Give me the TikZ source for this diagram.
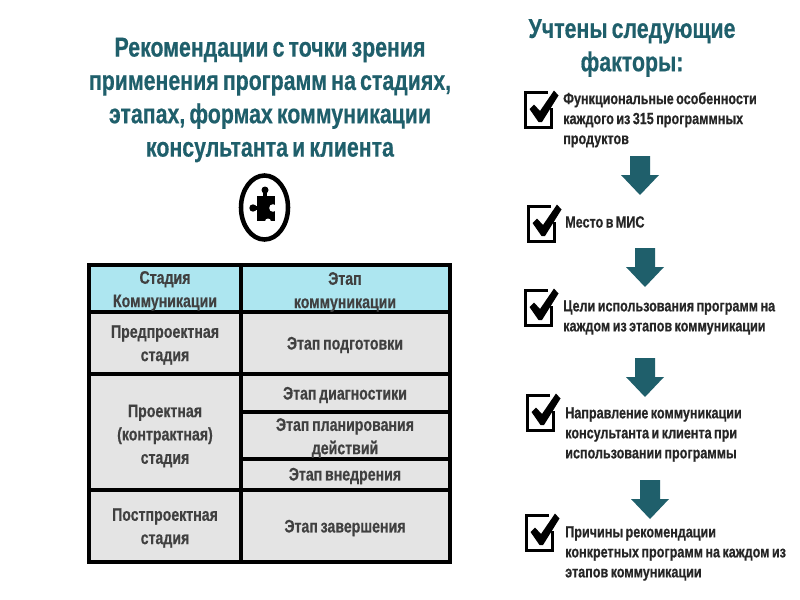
\documentclass[tikz,border=0pt]{standalone}
\usepackage{fontspec}
\setmainfont[FakeStretch=0.78,WordSpace=0.7,BoldFeatures={FakeBold=0.5}]{Liberation Sans}
\definecolor{tealdark}{HTML}{1F5F6B}
\definecolor{hdr}{HTML}{ADE6F0}
\definecolor{gry}{HTML}{E4E4E4}
\tikzset{
 ttl/.style={font=\fontsize{20.5}{25}\selectfont\bfseries,text=tealdark,align=center},
 fac/.style={font=\fontsize{12.1}{15}\selectfont\bfseries,text=black!85,align=left,anchor=north west,inner sep=0pt},
 cell/.style={font=\fontsize{13.6}{17.5}\selectfont\bfseries,text=black!75,align=center,inner sep=0pt},
 arr/.style={fill=tealdark,draw=none},
 grid/.style={line width=2.4pt,draw=black}
}
\newcommand{\chk}[2]{\begin{scope}[shift={(#1,#2)}]
 \draw[line width=2.6pt,draw=black] (24,1.75) -- (1.75,1.75) -- (1.75,36.25) -- (27.25,36.25) -- (27.25,17);
 \fill[black] (5.5,18) -- (10,13.5) -- (16,20) -- (30,-0.5) -- (34.5,4.5) -- (18,31) -- (14.5,31) -- cycle;
\end{scope}}
\newcommand{\arw}[2]{\fill[arr,shift={(#1,#2)}] (-10,0) -- (10,0) -- (10,19) -- (19,19) -- (0,39) -- (-19,19) -- (-10,19) -- cycle;}
\begin{document}
\begin{tikzpicture}[x=0.75pt,y=-0.75pt]
\useasboundingbox (0,0) rectangle (800,600);
\fill[white] (0,0) rectangle (800,600);
\node[ttl] (title) at (270,100) {Рекомендации с точки зрения\\применения программ на стадиях,\\этапах, формах коммуникации\\консультанта и клиента};
\node[ttl] (factors) at (632,48) {Учтены следующие\\факторы:};
% emblem
\draw[line width=3.4pt] (264.5,207.5) ellipse [x radius=23.5,y radius=32];
\fill (257,196) rectangle (275,221);
\fill (263,193) rectangle (267,197);
\fill (265,190) circle (3.5);
\fill (254,206) rectangle (258,210);
\fill (253,208) circle (3.7);
\fill[white] (273,208) circle (3.8);
\fill[white] (268,221.5) circle (3);
\fill (271,217) rectangle (275,221);
% table
\fill[hdr] (89,265) rectangle (450,312);
\fill[gry] (89,312) rectangle (450,562);
\draw[grid] (89,265) rectangle (450,562);
\draw[grid] (241,265) -- (241,562);
\draw[grid] (89,312) -- (450,312);
\draw[grid] (89,374) -- (450,374);
\draw[grid] (241,412) -- (450,412);
\draw[grid] (241,459) -- (450,459);
\draw[grid] (89,490) -- (450,490);
\node[cell] (c1) at (165,291) {Стадия\\Коммуникации};
\node[cell] (c2) at (345,292) {Этап\\коммуникации};
\node[cell] (c3) at (165,345) {Предпроектная\\стадия};
\node[cell] (c4) at (345,345) {Этап подготовки};
\node[cell] (c5) at (165,436) {Проектная\\(контрактная)\\стадия};
\node[cell] (c6) at (345,395) {Этап диагностики};
\node[cell] (c7) at (345,438) {Этап планирования\\действий};
\node[cell] (c8) at (345,476) {Этап внедрения};
\node[cell] (c9) at (165,528) {Постпроектная\\стадия};
\node[cell] (c10) at (345,528) {Этап завершения};
% factors
\chk{524}{91}\chk{527}{205}\chk{524}{289}\chk{526}{394}\chk{525}{514}
\arw{640}{156}\arw{645}{248}\arw{645}{358}\arw{650}{480}
\node[fac] (f1) at (563,92) {Функциональные особенности\\каждого из 315 программных\\продуктов};
\node[fac] (f2) at (565,216) {Место в МИС};
\node[fac] (f3) at (563,300) {Цели использования программ на\\каждом из этапов коммуникации};
\node[fac] (f4) at (565,407) {Направление коммуникации\\консультанта и клиента при\\использовании программы};
\node[fac] (f5) at (565,526) {Причины рекомендации\\конкретных программ на каждом из\\этапов коммуникации};
\end{tikzpicture}
\end{document}
